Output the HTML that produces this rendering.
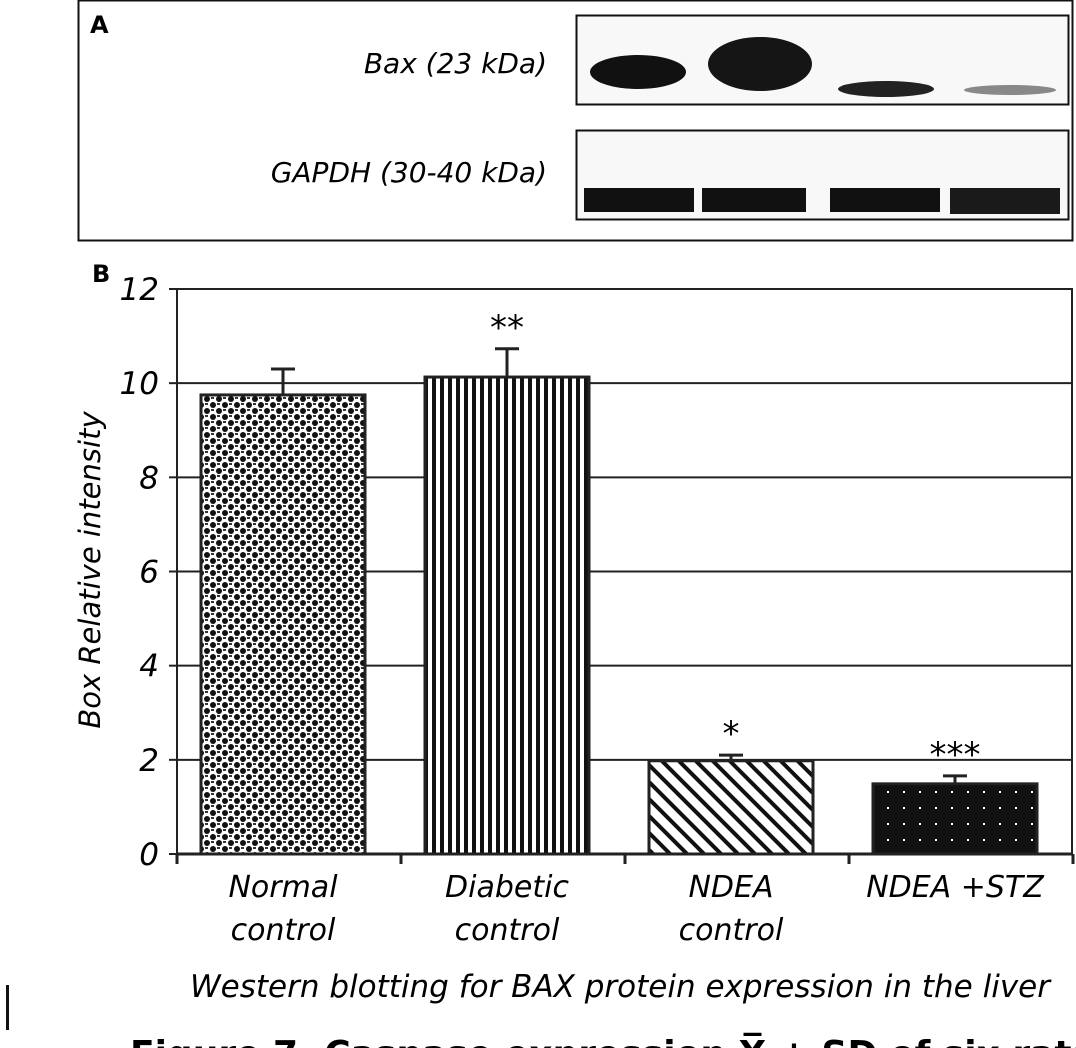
<!DOCTYPE html>
<html><head><meta charset="utf-8"><style>
html,body{margin:0;padding:0;background:#fff;width:1076px;height:1048px;overflow:hidden}
svg{display:block;font-family:"DejaVu Sans","Liberation Sans",sans-serif}
</style></head><body>
<svg id="chart" width="1076" height="1048" viewBox="0 0 1076 1048" xmlns="http://www.w3.org/2000/svg">
<defs>
<pattern id="pChecker" width="12" height="12" patternUnits="userSpaceOnUse"><rect width="12" height="12" fill="#fff"/><circle cx="3" cy="3" r="3" fill="#111"/><circle cx="9" cy="9" r="3" fill="#111"/><rect x="7" y="1" width="3" height="2" fill="#333"/><rect x="1" y="7" width="3" height="2" fill="#333"/></pattern>
<pattern id="pVert" width="8" height="8" patternUnits="userSpaceOnUse"><rect width="8" height="8" fill="#fff"/><rect width="4" height="8" fill="#111"/></pattern>
<pattern id="pDiag" width="12" height="12" patternUnits="userSpaceOnUse" patternTransform="rotate(-45)"><rect width="12" height="12" fill="#fff"/><rect width="4" height="12" fill="#111"/></pattern>
<pattern id="pDots" width="16" height="16" patternUnits="userSpaceOnUse"><rect width="16" height="16" fill="#111"/><rect x="7" y="7" width="2" height="2" fill="#fff"/></pattern>
</defs>
<g>
<rect x="78.5" y="0.5" width="994" height="240" fill="none" stroke="#111" stroke-width="2"/>
<text x="90" y="33" font-size="24" font-weight="bold">A</text>
<text x="547" y="73" font-size="28" font-style="italic" text-anchor="end">Bax (23 kDa)</text>
<text x="547" y="182" font-size="28" font-style="italic" text-anchor="end">GAPDH (30-40 kDa)</text>
<rect x="576.5" y="15.5" width="492" height="89" fill="#f8f8f8" stroke="#111" stroke-width="2"/>
<ellipse cx="638" cy="72" rx="48" ry="17" fill="#111"/>
<ellipse cx="760" cy="64" rx="52" ry="27" fill="#151515"/>
<ellipse cx="886" cy="89" rx="48" ry="8" fill="#222"/>
<ellipse cx="1010" cy="90" rx="46" ry="5" fill="#888"/>
<rect x="576.5" y="130.5" width="492" height="89" fill="#f8f8f8" stroke="#111" stroke-width="2"/>
<rect x="584" y="188" width="110" height="24" fill="#111"/>
<rect x="702" y="188" width="104" height="24" fill="#111"/>
<rect x="830" y="188" width="110" height="24" fill="#111"/>
<rect x="950" y="188" width="110" height="26" fill="#1a1a1a"/>
</g>
<text x="92" y="282" font-size="24" font-weight="bold">B</text>
<g id="plot"></g>
<text x="620" y="997" font-size="31" font-style="italic" text-anchor="middle">Western blotting for BAX protein expression in the liver</text>
<text x="100" y="570" font-size="29" font-style="italic" text-anchor="middle" transform="rotate(-90 100 570)">Box Relative intensity</text>
<rect x="6" y="985" width="3" height="45" fill="#111"/>
<text x="130" y="1066" font-size="36" font-weight="bold">Figure 7. Caspase expression  X̅ ± SD of six rats</text>
</svg>
<script>
const categories=[["Normal","control"],["Diabetic","control"],["NDEA","control"],["NDEA +STZ"]];
const values=[9.75,10.13,1.98,1.49];
const errors=[0.55,0.6,0.12,0.17];
const stars=["","**","*","***"];
const yTicks=[0,2,4,6,8,10,12];
const fills=["url(#pChecker)","url(#pVert)","url(#pDiag)","url(#pDots)"];
const NS="http://www.w3.org/2000/svg";
const x0=177,x1=1073,yBase=854,yTop=289,yMax=12;
const band=(x1-x0)/categories.length,bw=164;
const y=v=>yBase-(v/yMax)*(yBase-yTop);
const xc=i=>x0+band*(i+0.5)-6;
const g=document.getElementById('plot');
function mk(t,a){const e=document.createElementNS(NS,t);for(const k in a)e.setAttribute(k,a[k]);g.appendChild(e);return e;}
yTicks.forEach(v=>{
 if(v>0){const l=mk('line',{x1:x0,x2:x1,y1:y(v),y2:y(v),stroke:'#222','stroke-width':2});
 
 }
 const t=mk('line',{x1:x0-8,x2:x0,y1:y(v),y2:y(v),stroke:'#222','stroke-width':2});
 
 
 const tx=mk('text',{x:x0-18,y:y(v)+11,'font-size':31,'font-style':'italic','text-anchor':'end'});tx.textContent=v;
 
 
});
const ya=mk('line',{x1:x0,x2:x0,y1:yTop,y2:yBase,stroke:'#222','stroke-width':2});


const ra=mk('line',{x1:x1-1,x2:x1-1,y1:yTop,y2:yBase,stroke:'#222','stroke-width':2});


const xa=mk('line',{x1:x0,x2:x1,y1:yBase,y2:yBase,stroke:'#222','stroke-width':3});


for(let i=0;i<=categories.length;i++){const t=mk('line',{x1:x0+band*i,x2:x0+band*i,y1:yBase,y2:yBase+10,stroke:'#222','stroke-width':3});
 
 }
values.forEach((v,i)=>{
 const cx=xc(i);
 const b=mk('rect',{x:cx-bw/2,y:y(v),width:bw,height:yBase-y(v),fill:fills[i],stroke:'#222','stroke-width':3});
 
 
 const e=mk('path',{d:`M${cx} ${y(v)} V${y(v+errors[i])} M${cx-12} ${y(v+errors[i])} H${cx+12}`,stroke:'#222','stroke-width':3,fill:'none'});
 
 
 if(stars[i]){const s=mk('text',{x:cx,y:y(v+errors[i])-10,'font-size':34,'text-anchor':'middle'});s.textContent=stars[i];
 
 }
 categories[i].forEach((ln,j)=>{const t=mk('text',{x:cx,y:897+j*43,'font-size':30,'font-style':'italic','text-anchor':'middle'});t.textContent=ln;
 
 });
});
</script>
</body></html>
